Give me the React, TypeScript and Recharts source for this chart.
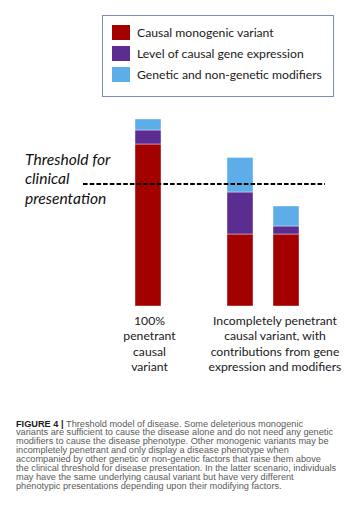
import React from "react"
import { Bar, BarChart, Legend, ReferenceLine, XAxis, YAxis } from "recharts"

const categories = ["full", "gap", "partial-1", "partial-2"]
const causalVariant = [16.2, 0, 7.2, 7.2]
const geneExpression = [1.4, 0, 4.2, 0.8]
const modifiers = [1.1, 0, 3.45, 2.0]
const threshold = 12.2

const seriesNames = ["Causal monogenic variant", "Level of causal gene expression", "Genetic and non-genetic modifiers"]

const tickLabels = [
  ["100%", "penetrant", "causal", "variant"],
  [],
  ["Incompletely penetrant", "causal variant, with", "contributions from gene", "expression and modifiers"],
  [],
]
const tickShift = [1.5, 0, 35, 0]

const thresholdLabel = ["Threshold for", "clinical", "presentation"]

const captionLines = [
  "Threshold model of disease. Some deleterious monogenic",
  "variants are sufficient to cause the disease alone and do not need any genetic",
  "modifiers to cause the disease phenotype. Other monogenic variants may be",
  "incompletely penetrant and only display a disease phenotype when",
  "accompanied by other genetic or non-genetic factors that raise them above",
  "the clinical threshold for disease presentation. In the latter scenario, individuals",
  "may have the same underlying causal variant but have very different",
  "phenotypic presentations depending upon their modifying factors.",
]

const data = categories.map((cat, i) => ({
  cat,
  causal: causalVariant[i] || null,
  expression: geneExpression[i] || null,
  modifiers: modifiers[i] || null,
}))

const COLORS = {
  causal: "#a30000",
  expression: "#5c2d91",
  modifiers: "#5dade8",
}

function CategoryTick(props: any) {
  const { x, y, index } = props
  const lines = tickLabels[index] || []
  return (
    <text
      x={x + tickShift[index]}
      y={y}
      textAnchor="middle"
      fontFamily="Lato"
      fontSize={12.2}
      fill="#1a1a1a"
    >
      {lines.map((l, i) => (
        <tspan key={i} x={x + tickShift[index]} dy={i === 0 ? 11 : 15.3}>
          {l}
        </tspan>
      ))}
    </text>
  )
}

function ThresholdShape(props: any) {
  const { x1, y1, x2 } = props
  return (
    <g>
      <line x1={x1 - 42} x2={x2 + 16} y1={y1} y2={y1} stroke="#000" strokeWidth={2} strokeDasharray="4.6 2.1" />
      <text x={x1 - 100} y={y1} fontFamily="Lato" fontStyle="italic" fontSize={15.6} fill="#111">
        {thresholdLabel.map((l, i) => (
          <tspan key={i} x={x1 - 100} dy={i === 0 ? -19.5 : 19.8}>
            {l}
          </tspan>
        ))}
      </text>
    </g>
  )
}

function LegendBox(props: any) {
  const items = [...(props.payload || [])].sort(
    (a: any, b: any) => seriesNames.indexOf(a.value) - seriesNames.indexOf(b.value)
  )
  return (
    <div
      style={{
        width: 221,
        height: 74,
        border: "1px solid #7f8cc0",
        paddingTop: 5.5,
        paddingLeft: 9,
        boxSizing: "content-box",
        fontFamily: "Lato",
        fontSize: 12.2,
        color: "#1a1a1a",
      }}
    >
      {items.map((p: any) => (
        <div key={p.value} style={{ height: 21, display: "flex", alignItems: "center" }}>
          <span style={{ width: 18, height: 15, background: p.color, display: "inline-block", marginRight: 7 }} />
          <span>{p.value}</span>
        </div>
      ))}
    </div>
  )
}

export default function App() {
  return (
    <div style={{ position: "relative", width: 351, height: 509, margin: -8, background: "#fff", overflow: "hidden" }}>
      <div style={{ position: "absolute", left: 7, right: 0, top: 4.5, height: 1.5, background: "#d2d2d2" }} />
      <div style={{ position: "absolute", left: 6.5, top: 5, bottom: 0, width: 1.5, background: "#d2d2d2" }} />
      <div style={{ position: "absolute", left: 0, top: 0 }}>
        <BarChart width={351} height={390} data={data} margin={{ top: 106, right: 42, bottom: 14, left: 125 }} barSize={26}>
          <XAxis dataKey="cat" height={70} axisLine={false} tickLine={false} interval={0} tick={<CategoryTick />} />
          <YAxis hide domain={[0, 20]} />
          <Legend
            layout="vertical"
            align="center"
            verticalAlign="middle"
            content={<LegendBox />}
            wrapperStyle={{ left: 102, top: 15, width: "auto" }}
          />
          <Bar dataKey="causal" name={seriesNames[0]} stackId="a" fill={COLORS.causal} stroke="#fff" strokeOpacity={0.5} strokeWidth={0.8} isAnimationActive={false} />
          <Bar dataKey="expression" name={seriesNames[1]} stackId="a" fill={COLORS.expression} stroke="#fff" strokeOpacity={0.5} strokeWidth={0.8} isAnimationActive={false} />
          <Bar dataKey="modifiers" name={seriesNames[2]} stackId="a" fill={COLORS.modifiers} stroke="#fff" strokeOpacity={0.5} strokeWidth={0.8} isAnimationActive={false} />
          <ReferenceLine y={threshold} shape={<ThresholdShape />} />
        </BarChart>
      </div>
      <div
        style={{
          position: "absolute",
          left: 16,
          top: 419.5,
          fontFamily: "Liberation Sans",
          fontSize: 9.2,
          lineHeight: "8.9px",
          color: "#5a5a5a",
          whiteSpace: "nowrap",
        }}
      >
        {captionLines.map((l, i) => (
          <div key={i}>
            {i === 0 && <b style={{ color: "#1a1a1a" }}>FIGURE 4 | </b>}
            {l}
          </div>
        ))}
      </div>
    </div>
  )
}
